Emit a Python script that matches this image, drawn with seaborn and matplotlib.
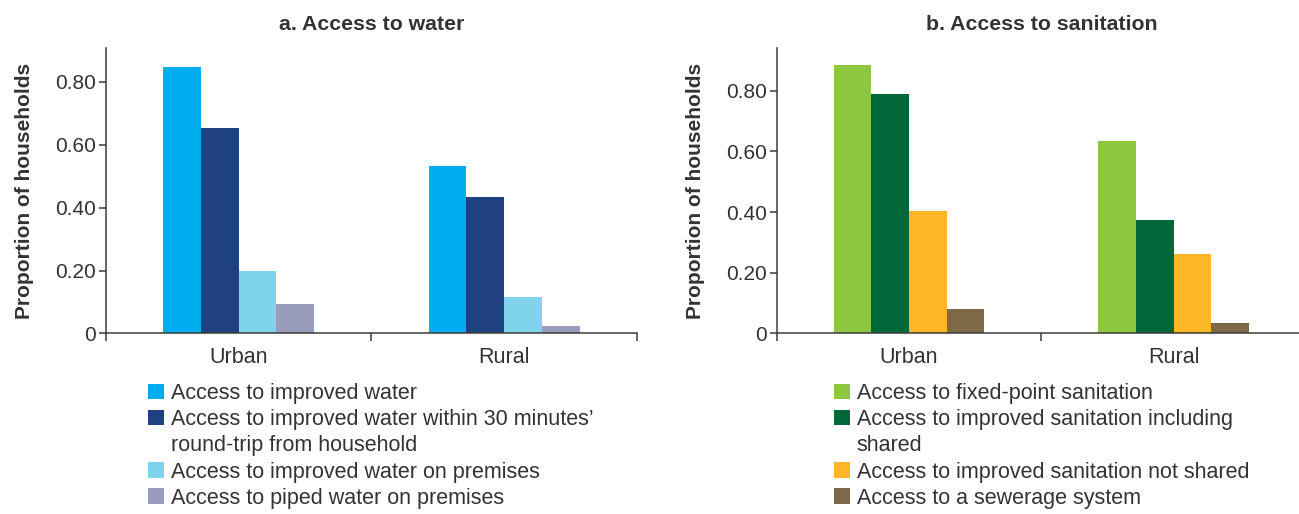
import matplotlib
matplotlib.use("Agg")
import matplotlib.pyplot as plt
from matplotlib.patches import Patch
import seaborn as sns
import pandas as pd

# Household access indicators, by area
areas = ["Urban", "Rural"]

water_labels = [
    "Access to improved water",
    "Access to improved water within 30 minutes\u2019\nround-trip from household",
    "Access to improved water on premises",
    "Access to piped water on premises",
]
water_urban = [0.848, 0.653, 0.200, 0.095]
water_rural = [0.532, 0.433, 0.117, 0.025]
water_colors = ["#00AEEF", "#1F4180", "#7FD3ED", "#999CBD"]

sanitation_labels = [
    "Access to fixed-point sanitation",
    "Access to improved sanitation including\nshared",
    "Access to improved sanitation not shared",
    "Access to a sewerage system",
]
sanitation_urban = [0.884, 0.788, 0.405, 0.081]
sanitation_rural = [0.636, 0.375, 0.263, 0.035]
sanitation_colors = ["#8DC63F", "#006838", "#FBB726", "#7F6847"]

y_ticks = [0, 0.2, 0.4, 0.6, 0.8]
y_tick_labels = ["0", "0.20", "0.40", "0.60", "0.80"]

sns.set_theme(style="white")
plt.rcParams["font.family"] = ["Liberation Sans", "DejaVu Sans"]

TEXT = "#333333"
AXIS = "#3c3c3c"
FS = 15.5


def long_frame(labels, urban, rural):
    rows = []
    for lab, u, r in zip(labels, urban, rural):
        rows.append({"area": areas[0], "indicator": lab, "value": u})
        rows.append({"area": areas[1], "indicator": lab, "value": r})
    return pd.DataFrame(rows)


def draw_panel(ax, title, labels, urban, rural, colors, ymax):
    df = long_frame(labels, urban, rural)
    sns.barplot(data=df, x="area", y="value", hue="indicator",
                hue_order=labels, order=areas, palette=colors,
                width=0.57, saturation=1, errorbar=None, legend=False,
                linewidth=0, ax=ax)
    ax.set_xlim(-0.5, 1.5)
    ax.set_ylim(0, ymax)
    for side in ("top", "right"):
        ax.spines[side].set_visible(False)
    for side in ("left", "bottom"):
        ax.spines[side].set_color(AXIS)
        ax.spines[side].set_linewidth(1.1)
    ax.set_yticks(y_ticks)
    ax.set_yticklabels(y_tick_labels)
    ax.tick_params(axis="y", direction="out", length=5, width=1.1,
                   color=AXIS, pad=2, labelsize=15, labelcolor=TEXT, left=True)
    # category boundaries carry the ticks, categories carry the labels
    ax.set_xticks([-0.5, 0.5, 1.5])
    ax.set_xticklabels([])
    ax.set_xticks([0, 1], minor=True)
    ax.set_xticklabels(areas, minor=True)
    ax.tick_params(axis="x", which="major", direction="out", length=6,
                   width=1.1, color=AXIS, bottom=True)
    ax.tick_params(axis="x", which="minor", length=0, pad=10,
                   labelsize=FS, labelcolor=TEXT)
    ax.set_xlabel("")
    ax.set_ylabel("Proportion of households", fontsize=15,
                  fontweight="bold", color=TEXT, labelpad=15)
    ax.set_title(title, fontsize=15.3, fontweight="bold", color=TEXT, pad=13)


def draw_legend(fig, labels, colors, x, y):
    handles, texts = [], []
    for lab, col in zip(labels, colors):
        lines = lab.split("\n")
        handles.append(Patch(facecolor=col, edgecolor="none"))
        texts.append(lines[0])
        for extra in lines[1:]:
            handles.append(Patch(facecolor="none", edgecolor="none"))
            texts.append(extra)
    fig.legend(handles, texts, loc="upper left", bbox_to_anchor=(x, y),
               frameon=False, fontsize=FS, labelcolor=TEXT,
               handlelength=0.73, handleheight=0.73, handletextpad=0.33,
               labelspacing=0.24, borderpad=0, borderaxespad=0)


fig = plt.figure(figsize=(12.99, 5.14), dpi=100)
ax_w = fig.add_axes([0.0814, 0.3512, 0.4091, 0.5549])
ax_s = fig.add_axes([0.5979, 0.3512, 0.4075, 0.5549])

draw_panel(ax_w, "a. Access to water", water_labels, water_urban,
           water_rural, water_colors, 0.906)
draw_panel(ax_s, "b. Access to sanitation", sanitation_labels,
           sanitation_urban, sanitation_rural, sanitation_colors, 0.94)

draw_legend(fig, water_labels, water_colors, 0.1139, 0.2548)
draw_legend(fig, sanitation_labels, sanitation_colors, 0.6421, 0.2548)

fig.savefig("out.png", dpi=100)
